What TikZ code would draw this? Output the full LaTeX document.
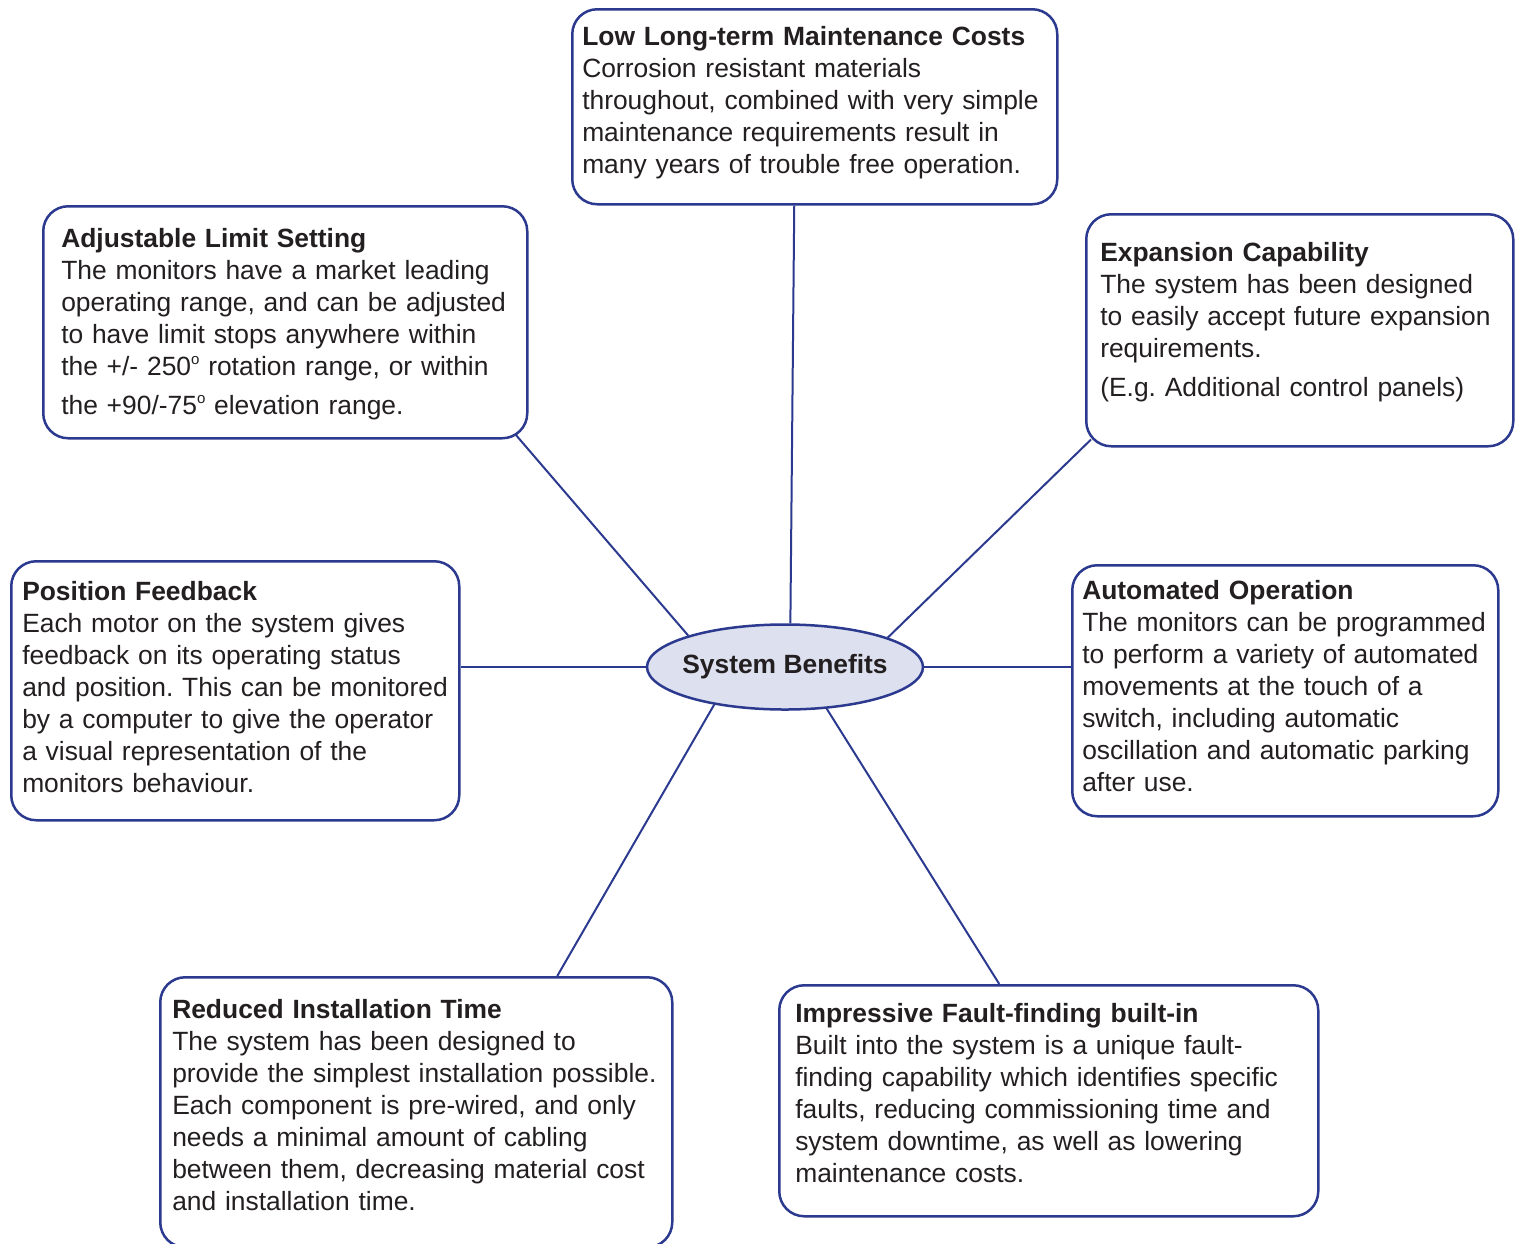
\documentclass[tikz,border=0pt]{standalone}
\usepackage{fontspec}
\setmainfont{Liberation Sans}
\frenchspacing
\usetikzlibrary{positioning,shapes.geometric}
\definecolor{mapblue}{RGB}{43,58,143}
\definecolor{maptext}{RGB}{35,31,32}
\definecolor{hubfill}{RGB}{221,224,239}
\newcommand{\degmark}{\raisebox{0.75ex}{\fontsize{7.5}{8}\selectfont o}}
\tikzset{
card/.style={draw=mapblue, line width=1.25pt, rounded corners=12.5pt, fill=white,
    anchor=north west, align=left, inner ysep=0pt, text=maptext,
    font=\fontsize{13.2}{16}\selectfont},
hub/.style={ellipse, draw=mapblue, line width=1.25pt, fill=hubfill, text=maptext,
    minimum width=138pt, minimum height=42.5pt, inner xsep=-4pt, inner ysep=0pt,
    font=\fontsize{13.2}{16}\selectfont\bfseries},
link/.style={draw=mapblue, line width=1pt}
}

\begin{document}
\begin{tikzpicture}[x=0.5pt,y=-0.5pt]
\useasboundingbox (0,0) rectangle (1520,1243);

\node[hub] (hub) at (785,667) {System Benefits};

\node[card, inner xsep=5pt, text width=232.5pt, text height=18pt, text depth=79.5pt] (low) at (571,8)
  {\textbf{Low Long-term Maintenance Costs}\\
   Corrosion resistant materials\\
   throughout, combined with very simple\\
   maintenance requirements result in\\
   many years of trouble free operation.};
\node[card, inner xsep=9pt, text width=224pt, text height=20.5pt, text depth=95.5pt] (adj) at (42,205)
  {\textbf{Adjustable Limit Setting}\\
   The monitors have a market leading\\
   operating range, and can be adjusted\\
   to have limit stops anywhere within\\
   the +/- 250\degmark{} rotation range, or within\\[3.5pt]
   the +90/-75\degmark{} elevation range.};
\node[card, inner xsep=7pt, text width=199.5pt, text height=23.5pt, text depth=92.5pt] (exp) at (1085,213)
  {\textbf{Expansion Capability}\\
   The system has been designed\\
   to easily accept future expansion\\
   requirements.\\[3.5pt]
   (E.g. Additional control panels)};
\node[card, inner xsep=5.5pt, text width=213pt, text height=19.5pt, text depth=110pt] (pos) at (10,560)
  {\textbf{Position Feedback}\\
   Each motor on the system gives\\
   feedback on its operating status\\
   and position. This can be monitored\\
   by a computer to give the operator\\
   a visual representation of the\\
   monitors behaviour.};
\node[card, inner xsep=5pt, text width=203pt, text height=17pt, text depth=108.5pt] (auto) at (1071,564)
  {\textbf{Automated Operation}\\
   The monitors can be programmed\\
   to perform a variety of automated\\
   movements at the touch of a\\
   switch, including automatic\\
   oscillation and automatic parking\\
   after use.};
\node[card, inner xsep=6pt, text width=244pt, text height=20.5pt, text depth=114.5pt] (red) at (159,976)
  {\textbf{Reduced Installation Time}\\
   The system has been designed to\\
   provide the simplest installation possible.\\
   Each component is pre-wired, and only\\
   needs a minimal amount of cabling\\
   between them, decreasing material cost\\
   and installation time.};
\node[card, inner xsep=8pt, text width=253.5pt, text height=18.5pt, text depth=97pt] (imp) at (778,984)
  {\textbf{Impressive Fault-finding built-in}\\
   Built into the system is a unique fault-\\
   finding capability which identifies specific\\
   faults, reducing commissioning time and\\
   system downtime, as well as lowering\\
   maintenance costs.};

\draw[link] (hub.83) -- ([xshift=-10.25pt]low.south);
\draw[link] (hub.162) -- ([xshift=-6.5pt,yshift=2.5pt]adj.south east);
\draw[link] (hub.16) -- ([xshift=3pt,yshift=4pt]exp.south west);
\draw[link] (hub.west) -- (hub.west -| pos.east);
\draw[link] (hub.east) -- (hub.east -| auto.west);
\draw[link] (hub.208) -- ([xshift=70.5pt]red.north);
\draw[link] (hub.-45) -- ([xshift=-24.75pt]imp.north);
\end{tikzpicture}
\end{document}
